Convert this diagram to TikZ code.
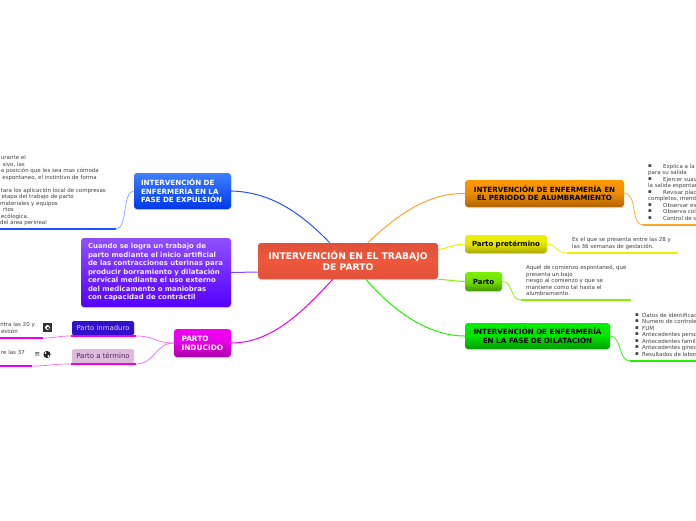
\documentclass[tikz,border=0pt]{standalone}
\usepackage{fontspec}
\setmainfont{DejaVu Sans}
\usetikzlibrary{shadows}
\definecolor{cblue}{HTML}{1F55FF}
\definecolor{corange}{HTML}{FFA42A}
\definecolor{cyel}{HTML}{EEF000}
\definecolor{clime}{HTML}{88F000}
\definecolor{cgreen}{HTML}{22F000}
\definecolor{cmag}{HTML}{EE00EE}
\definecolor{cpur}{HTML}{8844FF}
\definecolor{mainA}{HTML}{E05038}
\definecolor{mainB}{HTML}{EE573B}
\definecolor{blueA}{HTML}{3F80FF}
\definecolor{blueB}{HTML}{0038E8}
\definecolor{purA}{HTML}{8F50FF}
\definecolor{purB}{HTML}{5500FF}
\definecolor{magA}{HTML}{F000F0}
\definecolor{magB}{HTML}{A800A8}
\definecolor{oraA}{HTML}{FF9900}
\definecolor{oraB}{HTML}{B06400}
\definecolor{yelA}{HTML}{F0F000}
\definecolor{yelB}{HTML}{A8A800}
\definecolor{limA}{HTML}{7CF000}
\definecolor{limB}{HTML}{449800}
\definecolor{grnA}{HTML}{00F000}
\definecolor{grnB}{HTML}{009C00}
\definecolor{inm}{HTML}{3311CC}
\definecolor{ter}{HTML}{DDBBDD}
\definecolor{inmT}{HTML}{DDCCFF}
\definecolor{terT}{HTML}{552255}
\tikzset{
 box/.style={rounded corners=3pt,inner sep=0pt,align=center,font=\bfseries\fontsize{7.15}{8.7}\selectfont,
   drop shadow={opacity=.3,shadow xshift=0pt,shadow yshift=-1pt}},
 txt/.style={inner sep=0pt,font=\fontsize{5.5}{6}\selectfont,text=black!75,anchor=base west},
 txr/.style={inner sep=0pt,font=\fontsize{5.5}{6}\selectfont,text=black!75,anchor=base east},
 mainline/.style={line width=1pt,line cap=round},
 subline/.style={line width=.7pt},
 under/.style={line width=2pt},
}
\begin{document}
\begin{tikzpicture}[x=1pt,y=-1pt]
\useasboundingbox (0,0) rectangle (696,520);
% ---------- boxes
\node[box,minimum width=180pt,minimum height=36pt,top color=mainA,bottom color=mainA,middle color=mainB,text=white,font=\bfseries\fontsize{9.2}{11}\selectfont] (main) at (348,261) {INTERVENCIÓN EN EL TRABAJO\\DE PARTO};
\node[box,minimum width=97pt,minimum height=36pt,top color=blueA,bottom color=blueB,text=white,align=left,text width=83pt] (exp) at (182.5,191) {INTERVENCIÓN DE\\ENFERMERÍA EN LA\\FASE DE EXPULSIÓN};
\node[box,minimum width=150pt,minimum height=69pt,top color=purA,bottom color=purB,text=white!90!purA,align=left,text width=136pt,font=\bfseries\fontsize{6.95}{8.5}\selectfont] (cuando) at (156,272.5) {Cuando se logra un trabajo de\\parto mediante el inicio artificial\\de las contracciones uterinas para\\producir borramiento y dilatación\\cervical mediante el uso externo\\del medicamento o maniobras\\con capacidad de contráctil};
\node[box,minimum width=57pt,minimum height=28pt,top color=magA,bottom color=magB,middle color=magA!85!magB,text=white,align=left,text width=42pt,font=\bfseries\fontsize{7.4}{9}\selectfont] (ind) at (202.5,343) {PARTO\\INDUCIDO};
\node[box,minimum width=62pt,minimum height=14pt,fill=inm,text=inmT,rounded corners=1.5pt,font=\fontsize{6.9}{8}\selectfont] (inmad) at (103,328) {Parto inmaduro};
\node[box,minimum width=62pt,minimum height=14pt,fill=ter,text=terT,rounded corners=1.5pt,font=\fontsize{6.9}{8}\selectfont] (term) at (103,356) {Parto a término};
\node[box,minimum width=159pt,minimum height=27pt,top color=oraA,bottom color=oraB,middle color=oraA!75!oraB,text=black,font=\bfseries\fontsize{7.15}{8.2}\selectfont] (alum) at (544.5,193.5) {INTERVENCIÓN DE ENFERMERÍA EN\\EL PERIODO DE ALUMBRAMIENTO};
\node[box,minimum width=82pt,minimum height=18pt,top color=yelA,bottom color=yelB,middle color=yelA!85!yelB,text=black,font=\bfseries\fontsize{7}{9}\selectfont] (pret) at (506,244) {Parto pretérmino};
\node[box,minimum width=37pt,minimum height=19pt,top color=limA,bottom color=limB,middle color=limA!80!limB,text=black,font=\bfseries\fontsize{7}{9}\selectfont] (parto) at (483.5,281.5) {Parto};
\node[box,minimum width=145pt,minimum height=26pt,top color=grnA,bottom color=grnB,middle color=grnA!85!grnB,text=black] (dil) at (537.5,336) {INTERVENCIÓN DE ENFERMERÍA\\EN LA FASE DE DILATACIÓN};
% ---------- coordinates at free ends
\coordinate (eA) at (116,229); \coordinate (eB) at (0,229);
\coordinate (oA) at (643,225); \coordinate (oB) at (696,225);
\coordinate (yA) at (567,253); \coordinate (yB) at (678,253);
\coordinate (lA) at (521,300); \coordinate (lB) at (631,300);
\coordinate (gA) at (630,361); \coordinate (gB) at (696,361);
\coordinate (i1A) at (43,338); \coordinate (i1B) at (0,338);
\coordinate (t1A) at (32,366); \coordinate (t1B) at (0,366);
\coordinate (inA) at (136,336); \coordinate (inB) at (71,336);
\coordinate (teA) at (136,364); \coordinate (teB) at (71,364);
% ---------- main connectors
\draw[mainline,cblue] ([xshift=72pt]main.north west) .. controls (300,212) and (270,192) .. (exp.east);
\draw[mainline,corange] ([xshift=110pt]main.north west) .. controls (400,212) and (430,193) .. (alum.west);
\draw[mainline,cpur] ([yshift=-11pt]main.west) -- ([yshift=0pt]cuando.east);
\draw[mainline,cmag] ([xshift=75pt]main.south west) .. controls (300,315) and (270,343) .. (ind.east);
\draw[mainline,cgreen] ([xshift=108pt]main.south west) .. controls (395,313) and (430,336) .. (dil.west);
\draw[mainline,cyel] ([yshift=-7pt]main.north east) .. controls (448,248) and (455,244) .. (pret.west);
\draw[mainline,clime] ([yshift=0pt]main.south east) .. controls (448,280) and (455,281) .. (parto.west);
% ---------- sub connectors
\draw[subline,cblue!55!white] (exp.west) .. controls (122,191) and (128,229) .. (eA);
\draw[under,cblue] (eA) -- (eB);
\draw[subline,corange] (alum.east) .. controls (638,193) and (630,225) .. (oA);
\draw[under,corange] (oA) -- (oB);
\draw[subline,cyel] (pret.east) .. controls (556,244) and (556,253) .. (yA);
\draw[under,cyel] (yA) -- (yB);
\draw[subline,clime] (parto.east) .. controls (513,281) and (510,300) .. (lA);
\draw[under,clime] (lA) -- (lB);
\draw[subline,cgreen] (dil.east) .. controls (622,336) and (618,361) .. (gA);
\draw[under,cgreen] (gA) -- (gB);
\draw[subline,cmag!60!white] (ind.west) .. controls (155,343) and (155,336) .. (inA);
\draw[subline,cmag!60!white] (ind.west) .. controls (155,343) and (155,364) .. (teA);
\draw[under,cmag] (inA) -- (inB);
\draw[under,cmag] (teA) -- (teB);
\draw[subline,cmag!60!white] (inB) .. controls (57,336) and (57,338) .. (i1A);
\draw[subline,cmag!60!white] (teB) .. controls (50,364) and (50,366) .. (t1A);
\draw[under,cmag] (i1A) -- (i1B);
\draw[under,cmag] (t1A) -- (t1B);
% ---------- left texts
\node[txr] (L1) at (26,159) {urante el};
\node[txr] (L2) at (25,166) {sivo, las};
\node[txr] (L3) at (99,172) {a posición que les sea mas cómoda};
\node[txr] (L4) at (97,179) {espontaneo, el instintivo de forma};
\node[txr] (L5) at (106,192) {tara los aplicación local de compresas};
\node[txr] (L6) at (74,198.5) {etapa del trabajo de parto};
\node[txr] (L7) at (58,205) {materiales y equipos};
\node[txr] (L8) at (14,211) {rtos};
\node[txr] (L9) at (29,218) {ecólogica.};
\node[txr] (L10) at (47,224) {del área perineal};
\node[txr] (I1) at (35,326) {ntra las 20 y};
\node[txr] (I2) at (18,333) {estión};
\node[txr] (T1) at (25,354) {re las 37};
% ---------- icons
\fill[black!80] (43,323) rectangle (51.5,331.5);
\fill[white] (47.5,327.5) circle (2.4pt);
\fill[black!80] (47,326.5) rectangle (49,329);
\node[inner sep=0pt,font=\fontsize{7}{7}\selectfont,text=black!80] (menu) at (37.3,354.5) {≡};
\fill[black!85] (47,354.5) circle (3.6pt);
\fill[white] (45.5,353) circle (1pt);
\fill[white] (48.5,356) circle (1.2pt);
% ---------- right texts
\node[txt] (b1) at (648,167.5) {▪};
\node[txt] (R1) at (663,168) {Explica a la};
\node[txt] (R2) at (648,174) {para su salida};
\node[txt] (b2) at (648,180.5) {▪};
\node[txt] (R3) at (663,181) {Ejercer suav};
\node[txt] (R4) at (648,187) {la salida espontan};
\node[txt] (b3) at (648,193.5) {▪};
\node[txt] (R5) at (663,194) {Revisar plac};
\node[txt] (R6) at (648,200) {completos, memb};
\node[txt] (b4) at (648,206.5) {▪};
\node[txt] (R7) at (663,207) {Observar es};
\node[txt] (b5) at (648,212.5) {▪};
\node[txt] (R8) at (663,213) {Observa col};
\node[txt] (b6) at (648,219.5) {▪};
\node[txt] (R9) at (663,220) {Control de s};
\node[txt] (Y1) at (572,241) {Es el que se presenta entre las 28 y};
\node[txt] (Y2) at (572,248) {las 36 semanas de gestación.};
\node[txt] (P1) at (526,269) {Aquel de comienzo espontaneó, que};
\node[txt] (P2) at (526,276) {presenta un bajo};
\node[txt] (P3) at (526,282) {riesgo al comienzo y que se};
\node[txt] (P4) at (526,289) {mantiene como tal hasta el};
\node[txt] (P5) at (526,295) {alumbramiento.};
\node[txt] (c1) at (635,316.5) {▪}; \node[txt] (D1) at (642,317) {Datos de identificac};
\node[txt] (c2) at (635,322.5) {▪}; \node[txt] (D2) at (642,323) {Numero de controle};
\node[txt] (c3) at (635,329.5) {▪}; \node[txt] (D3) at (642,330) {FUM};
\node[txt] (c4) at (635,335.5) {▪}; \node[txt] (D4) at (642,336) {Antecedentes perso};
\node[txt] (c5) at (635,342.5) {▪}; \node[txt] (D5) at (642,343) {Antecedentes famili};
\node[txt] (c6) at (635,348.5) {▪}; \node[txt] (D6) at (642,349) {Antecedentes ginec};
\node[txt] (c7) at (635,355.5) {▪}; \node[txt] (D7) at (642,356) {Resultados de labor};
\end{tikzpicture}
\end{document}
